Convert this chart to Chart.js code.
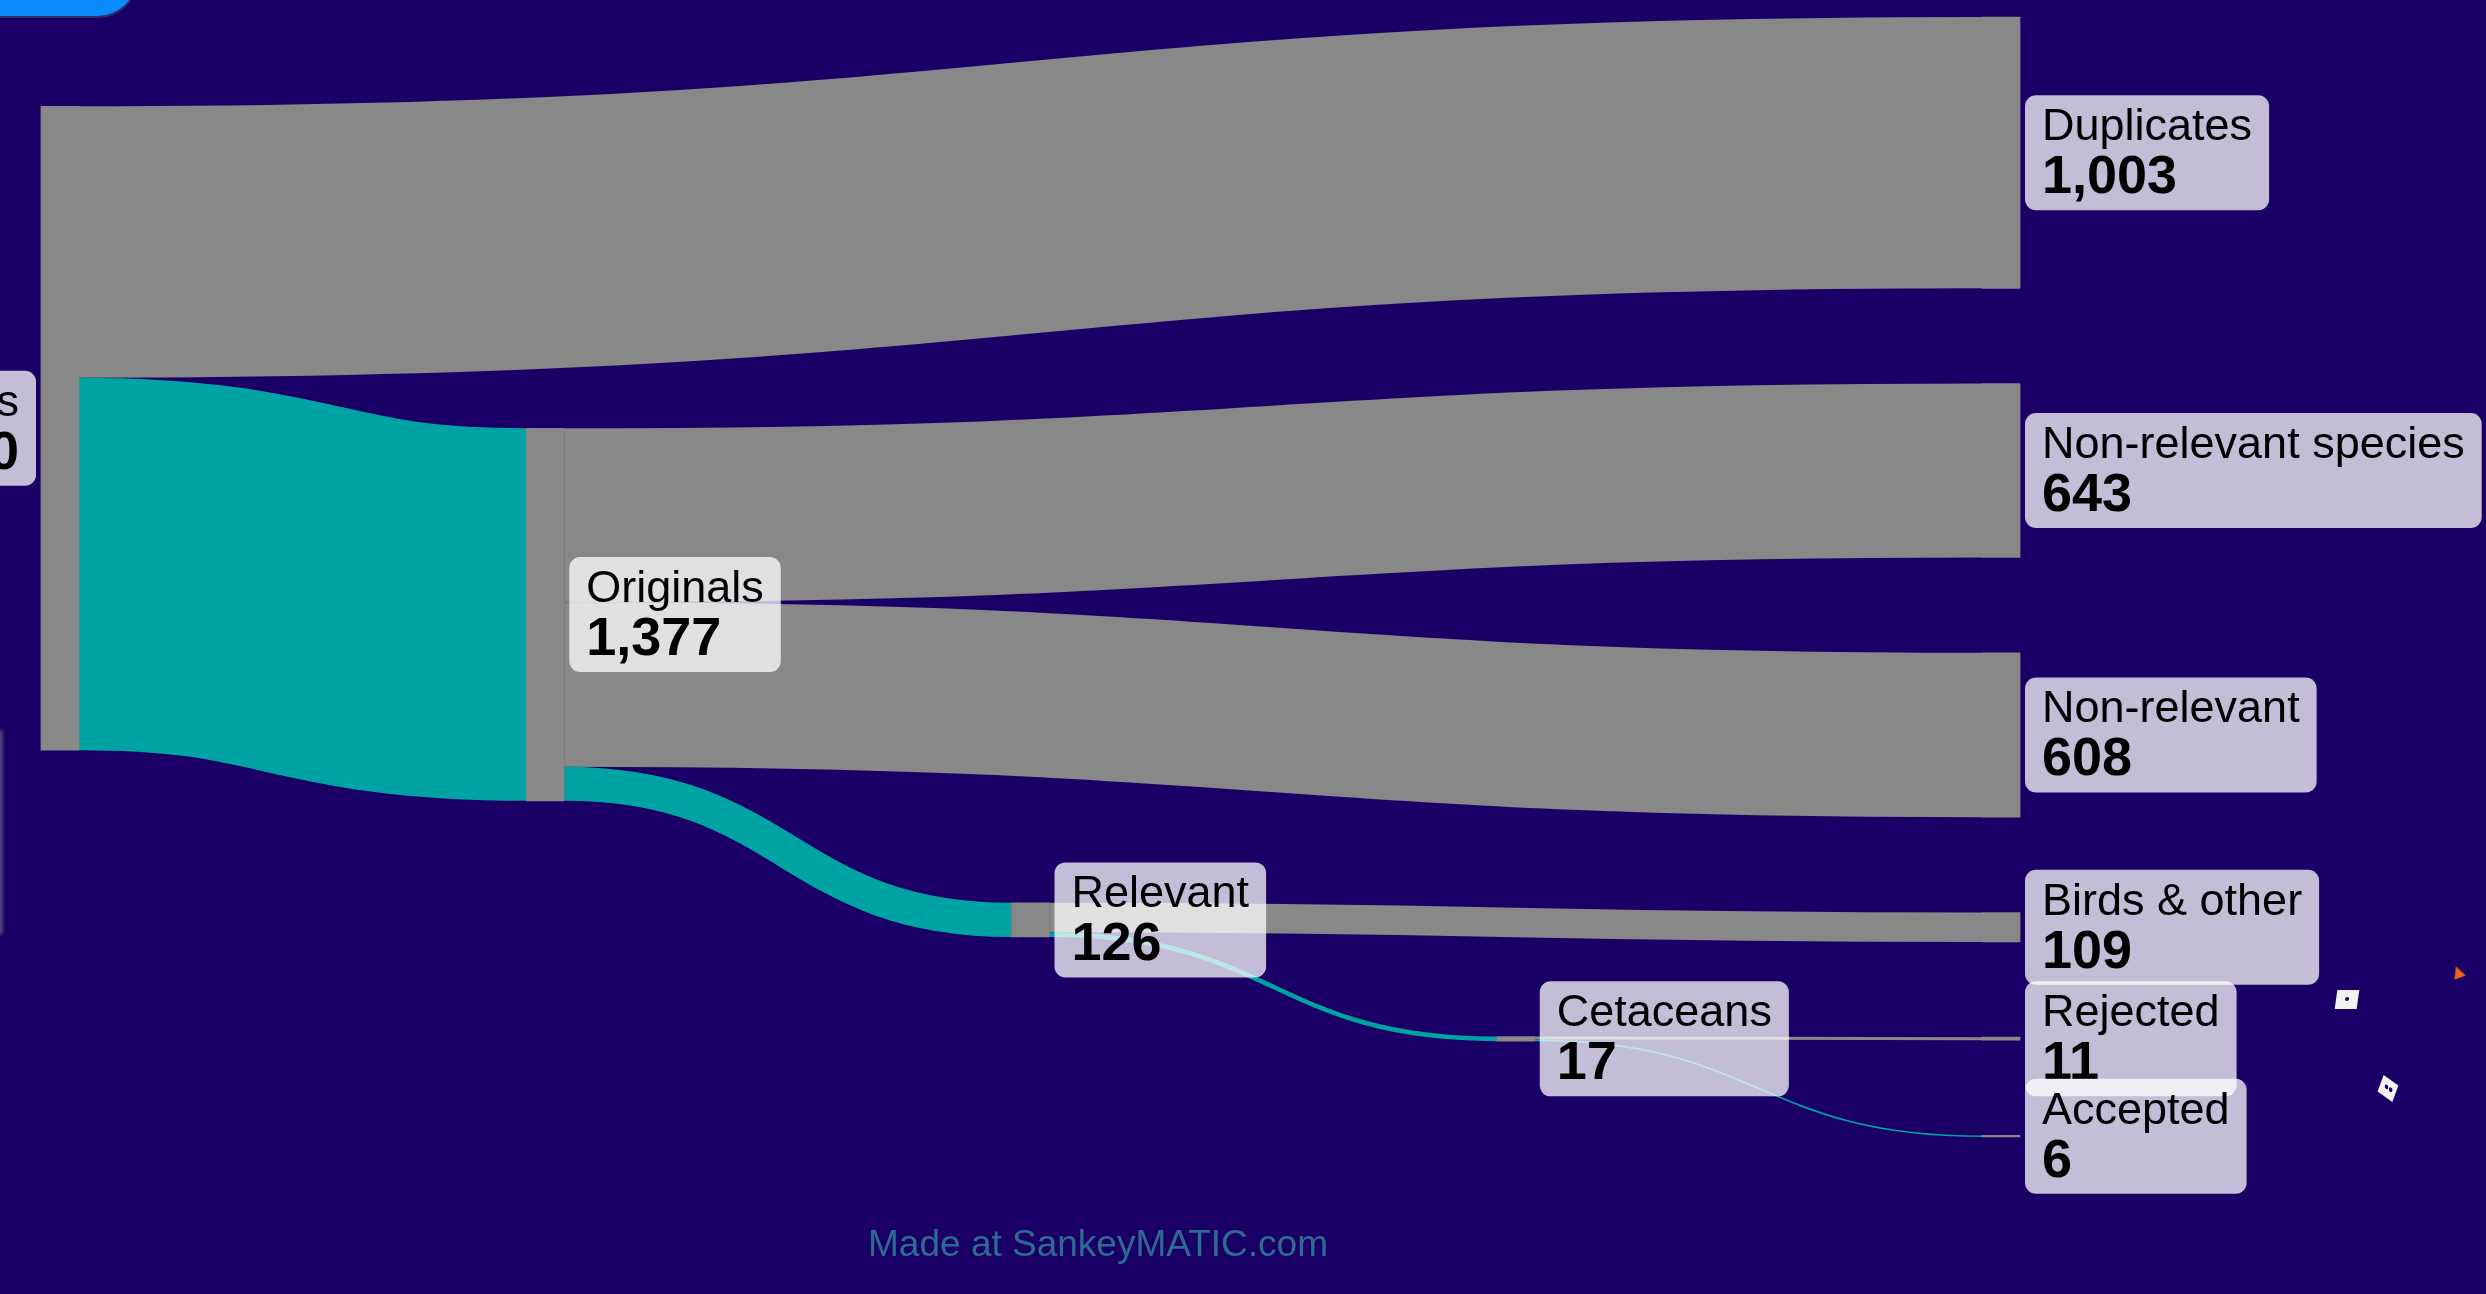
<!DOCTYPE html>
<html lang="en">
<head>
<meta charset="UTF-8" />
<title>Records screening – Sankey</title>
<script src="https://cdn.jsdelivr.net/npm/chart.js"></script>
<style>
  html, body { margin: 0; padding: 0; background: #1a0066; overflow: hidden; }
  #wrap { position: relative; width: 2486px; height: 1294px; }
  #tab { position: absolute; left: -40px; top: -60px; width: 176px; height: 76px;
         background: #0a8cff; border-radius: 0 0 40px 0;
         border-right: 2px solid #2e3160; border-bottom: 2px solid #2e3160; }
  #edge { position: absolute; left: -2px; top: 730px; width: 5px; height: 205px;
          background: rgba(150, 175, 160, 0.4); filter: blur(1.5px); border-radius: 3px; }
  .chip { position: absolute; background: #f2f2f2; }
  .chip i { position: absolute; width: 4px; height: 4px; background: #1a0066; border-radius: 50%; }
  #chip1 { left: 2336px; top: 990px; width: 22px; height: 19px; transform: skewX(-8deg); }
  #chip2 { left: 2379px; top: 1080px; width: 18px; height: 17px; transform: rotate(35deg) skewX(15deg); }
  #flame { position: absolute; left: 2452px; top: 966px; width: 0; height: 0;
           border-left: 6px solid transparent; border-right: 6px solid transparent;
           border-bottom: 12px solid #e8641a; transform: rotate(-20deg); }
</style>
</head>
<body>
<div id="wrap">
  <canvas id="sankey" width="2486" height="1294"></canvas>
  <div id="tab"></div>
  <div id="edge"></div>
  <div class="chip" id="chip1"><i style="left:9px;top:7px"></i></div>
  <div class="chip" id="chip2"><i style="left:5px;top:6px"></i><i style="left:10px;top:6px"></i></div>
  <div id="flame"></div>
</div>
<script>
// --- data ---
const nodeNames = ['Records', 'Duplicates', 'Originals', 'Non-relevant species', 'Non-relevant',
                   'Relevant', 'Birds & other', 'Cetaceans', 'Rejected', 'Accepted'];
const flowFrom   = ['Records', 'Records', 'Originals', 'Originals', 'Originals', 'Relevant', 'Relevant', 'Cetaceans', 'Cetaceans'];
const flowTo     = ['Duplicates', 'Originals', 'Non-relevant species', 'Non-relevant', 'Relevant', 'Birds & other', 'Cetaceans', 'Rejected', 'Accepted'];
const flowValues = [1003, 1377, 643, 608, 126, 109, 17, 11, 6];

// --- style ---
const BG = '#1a0066';
const NODE_COLOR = '#888888';
const GREY = '#888888';
const TEAL = '#00a3a3';
const tealTargets = ['Originals', 'Relevant', 'Cetaceans', 'Accepted'];
const NODE_W = 38;
const NODE_PAD = 352;      // spacing between nodes, in flow units
const ITERATIONS = 25;
const FONT = '"Liberation Sans", Arial, sans-serif';

const sumV = arr => arr.reduce((s, d) => s + d.value, 0);

// graph: nodes, links, columns (sinks pushed to the last column)
function buildGraph() {
  const nodes = nodeNames.map((name, index) => ({ name, index, sourceLinks: [], targetLinks: [] }));
  const byName = Object.fromEntries(nodes.map(n => [n.name, n]));
  const links = flowValues.map((value, index) => {
    const l = { source: byName[flowFrom[index]], target: byName[flowTo[index]], value, index };
    l.source.sourceLinks.push(l);
    l.target.targetLinks.push(l);
    return l;
  });
  nodes.forEach(n => n.value = Math.max(sumV(n.sourceLinks), sumV(n.targetLinks)));
  let current = new Set(nodes), next = new Set(), depth = 0;
  while (current.size) {
    for (const n of current) {
      n.depth = depth;
      for (const l of n.sourceLinks) next.add(l.target);
    }
    depth++;
    current = next; next = new Set();
  }
  nodes.forEach(n => n.layer = n.sourceLinks.length ? n.depth : depth - 1);
  const columns = [];
  nodes.forEach(n => (columns[n.layer] = columns[n.layer] || []).push(n));
  return { nodes, links, columns, layers: depth };
}

// vertical placement in flow units (relaxation like d3-sankey)
function layoutSankey(g, pad, iterations) {
  const { nodes, columns } = g;
  const Y0 = 0;
  const Y1 = Math.max(...columns.map(c => sumV(c) + (c.length - 1) * pad));
  const py = Math.min(pad, (Y1 - Y0) / (Math.max(...columns.map(c => c.length)) - 1));
  const ky = Math.min(...columns.map(c => (Y1 - Y0 - (c.length - 1) * py) / sumV(c)));

  const byTarget = (a, b) => (a.target.y0 - b.target.y0) || (a.index - b.index);
  const bySource = (a, b) => (a.source.y0 - b.source.y0) || (a.index - b.index);
  const reorderNodeLinks = n => {
    for (const l of n.targetLinks) l.source.sourceLinks.sort(byTarget);
    for (const l of n.sourceLinks) l.target.targetLinks.sort(bySource);
  };

  for (const col of columns) {
    let y = Y0;
    for (const n of col) {
      n.y0 = y; n.y1 = y + n.value * ky; y = n.y1 + py;
      for (const l of n.sourceLinks) l.width = l.value * ky;
    }
    y = (Y1 - y + py) / (col.length + 1);
    col.forEach((n, i) => { n.y0 += y * (i + 1); n.y1 += y * (i + 1); });
    col.forEach(n => { n.sourceLinks.sort(byTarget); n.targetLinks.sort(bySource); });
  }

  function targetTop(source, target) {
    let y = source.y0 - (source.sourceLinks.length - 1) * py / 2;
    for (const l of source.sourceLinks) { if (l.target === target) break; y += l.width + py; }
    for (const l of target.targetLinks) { if (l.source === source) break; y -= l.width; }
    return y;
  }
  function sourceTop(source, target) {
    let y = target.y0 - (target.targetLinks.length - 1) * py / 2;
    for (const l of target.targetLinks) { if (l.source === source) break; y += l.width + py; }
    for (const l of source.sourceLinks) { if (l.target === target) break; y -= l.width; }
    return y;
  }
  function downFrom(col, y, i, a) {
    for (; i < col.length; ++i) {
      const n = col[i], dy = (y - n.y0) * a;
      if (dy > 1e-6) { n.y0 += dy; n.y1 += dy; }
      y = n.y1 + py;
    }
  }
  function upFrom(col, y, i, a) {
    for (; i >= 0; --i) {
      const n = col[i], dy = (n.y1 - y) * a;
      if (dy > 1e-6) { n.y0 -= dy; n.y1 -= dy; }
      y = n.y0 - py;
    }
  }
  function resolveCollisions(col, a) {
    const i = col.length >> 1, s = col[i];
    upFrom(col, s.y0 - py, i - 1, a);
    downFrom(col, s.y1 + py, i + 1, a);
    upFrom(col, Y1, col.length - 1, a);
    downFrom(col, Y0, 0, a);
  }
  // big flows pull harder
  const weight = l => l.value * l.value;

  function relaxLeftToRight(alpha, beta) {
    for (let i = 1; i < columns.length; ++i) {
      for (const n of columns[i]) {
        let y = 0, w = 0;
        for (const l of n.targetLinks) { const v = weight(l); y += targetTop(l.source, n) * v; w += v; }
        if (!(w > 0)) continue;
        const dy = (y / w - n.y0) * alpha;
        n.y0 += dy; n.y1 += dy;
        reorderNodeLinks(n);
      }
      resolveCollisions(columns[i], beta);
    }
  }
  function relaxRightToLeft(alpha, beta) {
    for (let i = columns.length - 2; i >= 0; --i) {
      for (const n of columns[i]) {
        let y = 0, w = 0;
        for (const l of n.sourceLinks) { const v = weight(l); y += sourceTop(n, l.target) * v; w += v; }
        if (!(w > 0)) continue;
        const dy = (y / w - n.y0) * alpha;
        n.y0 += dy; n.y1 += dy;
        reorderNodeLinks(n);
      }
      resolveCollisions(columns[i], beta);
    }
  }

  for (let it = 0; it < iterations; it++) {
    const alpha = Math.pow(0.99, it);
    const beta = Math.max(1 - alpha, (it + 1) / iterations);
    relaxLeftToRight(alpha, beta);
    relaxRightToLeft(alpha, beta);
  }
  for (const n of nodes) {
    let ys = n.y0, yt = n.y0;
    for (const l of n.sourceLinks) { l.y0 = ys + l.width / 2; ys += l.width; }
    for (const l of n.targetLinks) { l.y1 = yt + l.width / 2; yt += l.width; }
  }
  return Y1;
}

const graph = buildGraph();
const extent = layoutSankey(graph, NODE_PAD, ITERATIONS);

const fmt = v => v.toLocaleString('en-US');

const sankeyPlugin = {
  id: 'sankeyFlows',
  beforeDatasetsDraw(chart) {
    const { ctx, scales: { x, y } } = chart;
    ctx.save();
    ctx.fillStyle = BG;
    ctx.fillRect(0, 0, chart.width, chart.height);
    ctx.lineCap = 'butt';
    for (const l of graph.links) {
      const x0 = x.getPixelForValue(l.source.layer) + NODE_W / 2;
      const x1 = x.getPixelForValue(l.target.layer) - NODE_W / 2;
      const y0 = y.getPixelForValue(l.y0);
      const y1 = y.getPixelForValue(l.y1);
      const w = Math.abs(y.getPixelForValue(l.width) - y.getPixelForValue(0));
      const xm = (x0 + x1) / 2;
      ctx.beginPath();
      ctx.moveTo(x0, y0);
      ctx.bezierCurveTo(xm, y0, xm, y1, x1, y1);
      ctx.lineWidth = Math.max(w, 1);
      ctx.strokeStyle = tealTargets.includes(l.target.name) ? TEAL : GREY;
      ctx.stroke();
    }
    ctx.restore();
  },
  afterDatasetsDraw(chart) {
    const { ctx, scales: { x, y } } = chart;
    ctx.save();
    // node labels
    for (const n of graph.nodes) {
      const cx = x.getPixelForValue(n.layer);
      const cy = (y.getPixelForValue(n.y0) + y.getPixelForValue(n.y1)) / 2;
      ctx.font = `45px ${FONT}`;
      const nameW = ctx.measureText(n.name).width;
      ctx.font = `bold 54px ${FONT}`;
      const valW = ctx.measureText(fmt(n.value)).width;
      const bw = Math.max(nameW, valW) + 34, bh = 115;
      const left = n.layer === 0;
      const bx = left ? cx - NODE_W / 2 - 5 - bw : cx + NODE_W / 2 + 5;
      const by = cy - bh / 2;
      ctx.fillStyle = 'rgba(255,255,255,0.74)';
      ctx.beginPath();
      ctx.roundRect(bx, by, bw, bh, 11);
      ctx.fill();
      ctx.fillStyle = '#000';
      ctx.textAlign = left ? 'right' : 'left';
      const tx = left ? bx + bw - 17 : bx + 17;
      ctx.font = `45px ${FONT}`;
      ctx.fillText(n.name, tx, by + 45);
      ctx.font = `bold 54px ${FONT}`;
      ctx.fillText(fmt(n.value), tx, by + 98);
    }
    // credit line
    ctx.textAlign = 'center';
    ctx.font = `37px ${FONT}`;
    ctx.fillStyle = '#2f6a90';
    ctx.fillText('Made at SankeyMATIC.com', 1098, 1256);
    ctx.restore();
  }
};

const ctx = document.getElementById('sankey').getContext('2d');
new Chart(ctx, {
  type: 'bar',
  data: {
    datasets: [{
      data: graph.nodes.map(n => ({ x: n.layer, y: [n.y0, n.y1] })),
      backgroundColor: NODE_COLOR,
      borderWidth: 0,
      barThickness: NODE_W,
      clip: false
    }]
  },
  options: {
    responsive: false,
    animation: false,
    layout: { padding: { left: 60, right: 485, top: 17, bottom: 157 } },
    plugins: { legend: { display: false }, tooltip: { enabled: false } },
    scales: {
      x: { type: 'linear', min: 0, max: graph.layers - 1, offset: false, display: false },
      y: { type: 'linear', min: 0, max: extent, reverse: true, display: false }
    }
  },
  plugins: [sankeyPlugin]
});
</script>
</body>
</html>
